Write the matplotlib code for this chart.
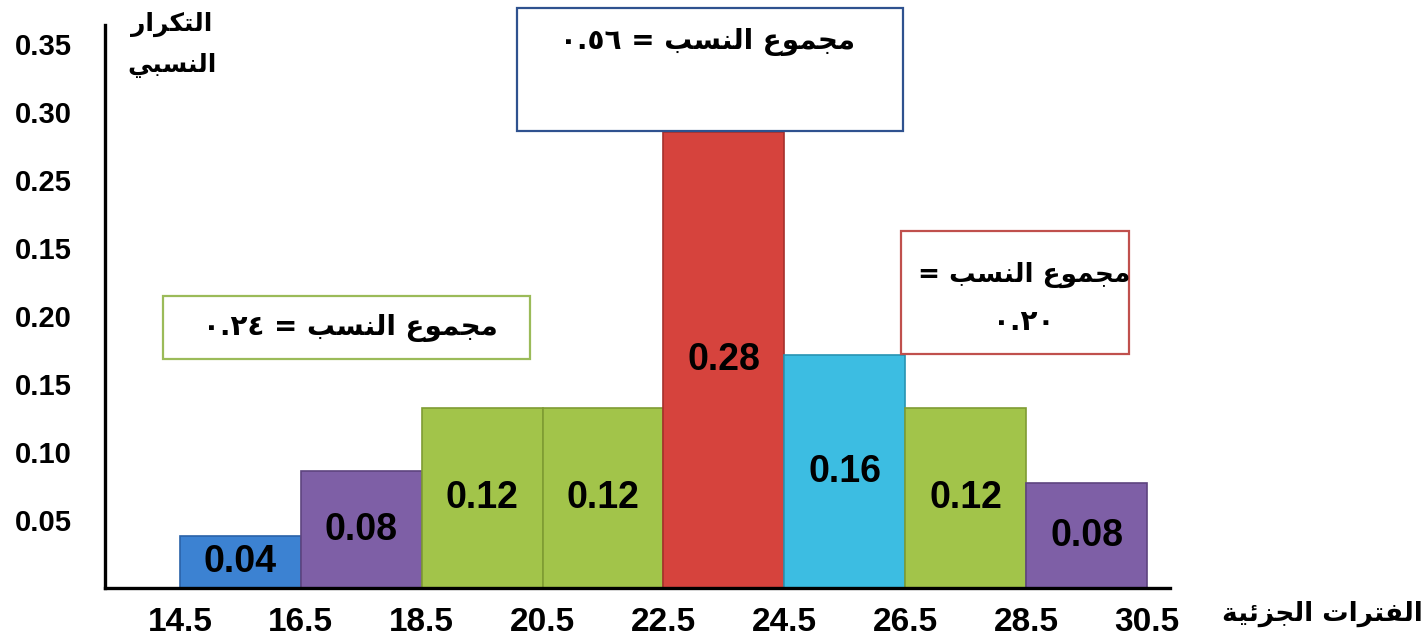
import re
import matplotlib.pyplot as plt
from matplotlib.patches import Rectangle

# bins and values
edges = [14.5, 16.5, 18.5, 20.5, 22.5, 24.5, 26.5, 28.5, 30.5]
heights = [0.038, 0.086, 0.132, 0.132, 0.335, 0.171, 0.132, 0.077]
bar_labels = ["0.04", "0.08", "0.12", "0.12", "0.28", "0.16", "0.12", "0.08"]
bar_colors = ["#3c82d2", "#7e5fa6", "#a2c44a", "#a2c44a", "#d6433d", "#3cbde2", "#a2c44a", "#7e5fa6"]
edge_colors = ["#2a62a8", "#5e447f", "#7f9c33", "#7f9c33", "#a6302c", "#2893b3", "#7f9c33", "#5e447f"]
ytick_pos = [0.05, 0.10, 0.15, 0.20, 0.25, 0.30, 0.35, 0.40]
ytick_labels = ["0.05", "0.10", "0.15", "0.20", "0.15", "0.25", "0.30", "0.35"]
xtick_labels = ["14.5", "16.5", "18.5", "20.5", "22.5", "24.5", "26.5", "28.5", "30.5"]

ylabel_lines = ["التكرار", "النسبي"]
xlabel = "الفترات الجزئية"
box_mid = "مجموع النسب = ٠.٥٦"
box_left = "مجموع النسب = ٠.٢٤"
box_right = ["مجموع النسب =", "٠.٢٠"]

# presentation forms: isolated, final, initial, medial
FORMS = {
    "ا": (0xFE8D, 0xFE8E, None, None),
    "ب": (0xFE8F, 0xFE90, 0xFE91, 0xFE92),
    "ة": (0xFE93, 0xFE94, None, None),
    "ت": (0xFE95, 0xFE96, 0xFE97, 0xFE98),
    "ج": (0xFE9D, 0xFE9E, 0xFE9F, 0xFEA0),
    "ر": (0xFEAD, 0xFEAE, None, None),
    "ز": (0xFEAF, 0xFEB0, None, None),
    "س": (0xFEB1, 0xFEB2, 0xFEB3, 0xFEB4),
    "ع": (0xFEC9, 0xFECA, 0xFECB, 0xFECC),
    "ف": (0xFED1, 0xFED2, 0xFED3, 0xFED4),
    "ك": (0xFED9, 0xFEDA, 0xFEDB, 0xFEDC),
    "ل": (0xFEDD, 0xFEDE, 0xFEDF, 0xFEE0),
    "م": (0xFEE1, 0xFEE2, 0xFEE3, 0xFEE4),
    "ن": (0xFEE5, 0xFEE6, 0xFEE7, 0xFEE8),
    "و": (0xFEED, 0xFEEE, None, None),
    "ي": (0xFEF1, 0xFEF2, 0xFEF3, 0xFEF4),
    "ئ": (0xFE89, 0xFE8A, 0xFE8B, 0xFE8C),
}


def ar(text):
    # shape letters, then lay out right to left (numbers stay left to right)
    out = []
    for i, ch in enumerate(text):
        if ch not in FORMS:
            out.append(ch)
            continue
        prev = text[i - 1] if i > 0 else ""
        nxt = text[i + 1] if i + 1 < len(text) else ""
        join_prev = prev in FORMS and FORMS[prev][2] is not None
        join_next = nxt in FORMS and FORMS[ch][2] is not None
        iso, fin, ini, med = FORMS[ch]
        if join_prev and join_next:
            c = med
        elif join_prev:
            c = fin
        elif join_next:
            c = ini
        else:
            c = iso
        out.append(chr(c))
    vis = "".join(out)[::-1]
    return re.sub(r"[0-9٠-٩.]+", lambda m: m.group(0)[::-1], vis)


W, H = 1425, 639
fig = plt.figure(figsize=(W / 100, H / 100), dpi=100)
ax = fig.add_axes([105 / W, 51 / H, 1065 / W, 563 / H])

num_font = dict(family=["Liberation Sans", "DejaVu Sans"], fontweight="bold")
ar_font = dict(family=["DejaVu Sans"], fontweight="bold")

lefts = edges[:-1]
widths = [b - a for a, b in zip(edges[:-1], edges[1:])]
ax.bar(lefts, heights, width=widths, align="edge", color=bar_colors,
       edgecolor=edge_colors, linewidth=1.2, zorder=2)
for x, w, h, lab in zip(lefts, widths, heights, bar_labels):
    ax.text(x + w / 2, h / 2, lab, ha="center", va="center", fontsize=27,
            color="black", zorder=3, **num_font)

ax.set_xlim(13.26, 30.88)
ax.set_ylim(0, 0.414)
ax.set_yticks(ytick_pos)
ax.set_yticklabels(ytick_labels, fontsize=21, **num_font)
ax.set_xticks(edges)
ax.set_xticklabels(xtick_labels, fontsize=24, **num_font)
ax.tick_params(axis="both", length=0)
ax.tick_params(axis="y", pad=24)
ax.tick_params(axis="x", pad=14)
for s in ["top", "right"]:
    ax.spines[s].set_visible(False)
for s in ["left", "bottom"]:
    ax.spines[s].set_linewidth(2.4)
    ax.spines[s].set_color("black")


def fx(x):
    return x / W


def fy(y):
    return 1 - y / H


# text boxes, positions in pixels of the figure
def box(x0, y0, x1, y1, color):
    fig.add_artist(Rectangle((fx(x0), fy(y1)), fx(x1) - fx(x0), fy(y0) - fy(y1),
                             transform=fig.transFigure, facecolor="white",
                             edgecolor=color, linewidth=1.6, zorder=5))


box(517, 8, 903, 131, "#2f528f")
fig.text(fx(708), fy(42), ar(box_mid), ha="center", va="center", fontsize=20, zorder=6, **ar_font)

box(163, 296, 530, 359, "#9bbb59")
fig.text(fx(350), fy(328), ar(box_left), ha="center", va="center", fontsize=20, zorder=6, **ar_font)

box(901, 231, 1129, 354, "#c0504d")
fig.text(fx(1024), fy(275), ar(box_right[0]), ha="center", va="center", fontsize=19, zorder=6, **ar_font)
fig.text(fx(1024), fy(322), ar(box_right[1]), ha="center", va="center", fontsize=20, zorder=6, **ar_font)

fig.text(fx(172), fy(24), ar(ylabel_lines[0]), ha="center", va="center", fontsize=18, **ar_font)
fig.text(fx(172), fy(65), ar(ylabel_lines[1]), ha="center", va="center", fontsize=18, **ar_font)
fig.text(fx(1322), fy(614), ar(xlabel), ha="center", va="center", fontsize=19, **ar_font)

fig.savefig("out.png", dpi=100)
